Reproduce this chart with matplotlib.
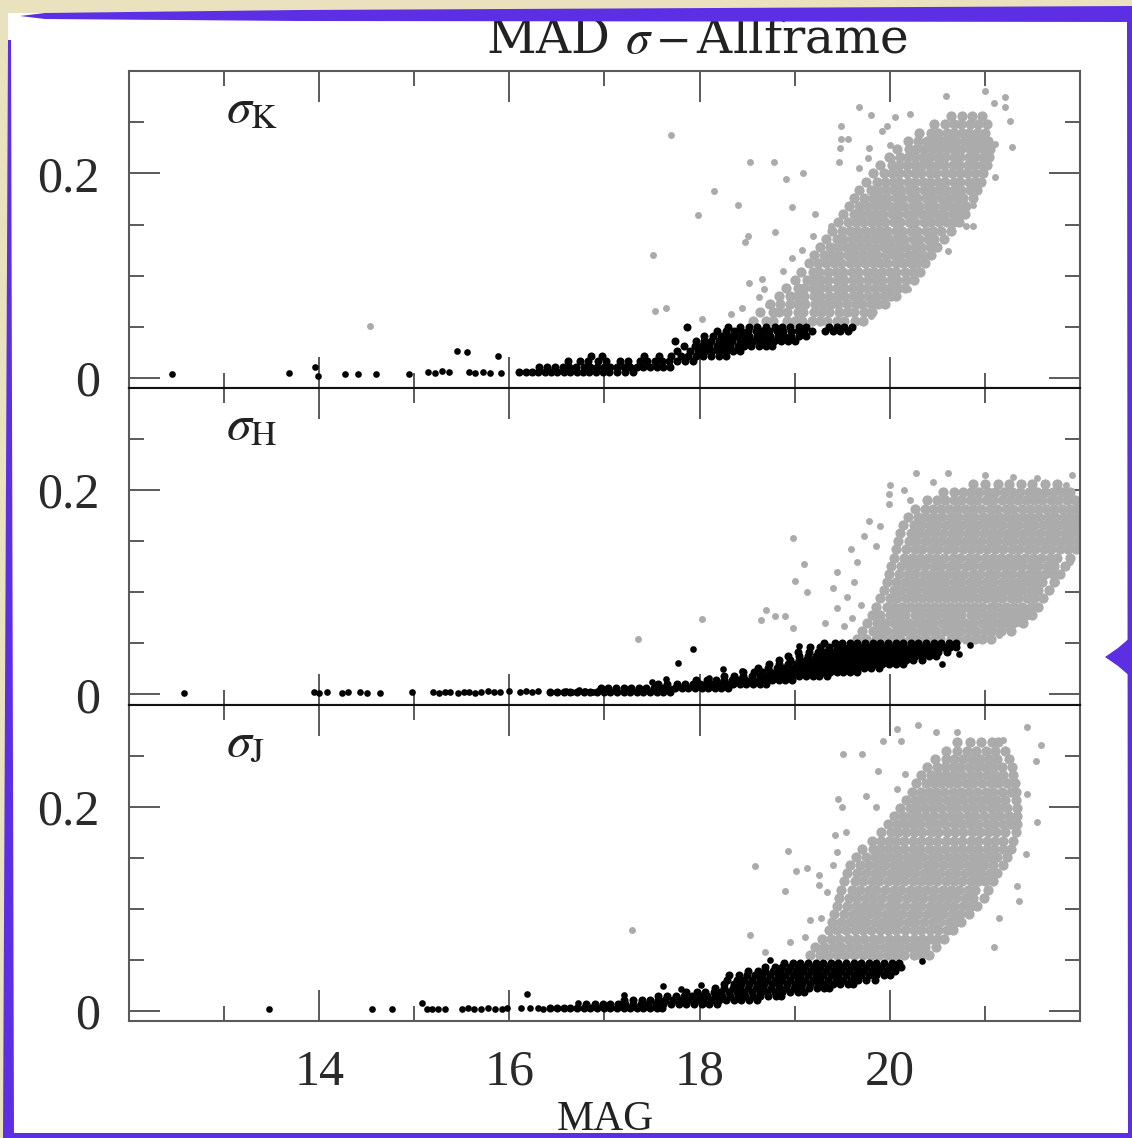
import matplotlib.pyplot as plt
from matplotlib.patches import Polygon, Rectangle

W, H = 1132, 1138

# ---------------- K band ----------------
k_bright_scatter = [(12.45, .004), (13.68, .005), (13.96, .011), (13.99, .002), (14.27, .004),
                    (14.41, .004), (14.6, .004), (14.94, .004), (15.14, .006), (15.22, .005),
                    (15.29, .007), (15.36, .006), (15.45, .026), (15.55, .025), (15.58, .006),
                    (15.64, .005), (15.72, .006), (15.8, .005), (15.88, .021), (15.91, .005)]
k_bright_rows = [
    (.006, [16.1, 16.17, 16.24, 16.3, 16.37, 16.44, 16.5, 16.57, 16.64, 16.71, 16.77, 16.84, 16.91, 16.98, 17.05, 17.13, 17.22, 17.3]),
    (.011, [16.31, 16.4, 16.48, 16.56, 16.63, 16.7, 16.78, 16.85, 16.92, 16.99, 17.06, 17.13, 17.2, 17.27, 17.34, 17.41, 17.48, 17.55, 17.62, 17.69]),
    (.016, [16.62, 16.74, 16.83, 16.93, 17.02, 17.16, 17.25, 17.37, 17.45, 17.53, 17.6, 17.68, 17.76, 17.85, 17.93]),
    (.021, [16.86, 16.97, 17.42, 17.57, 17.7, 17.8, 17.88, 17.96, 18.04, 18.12, 18.2, 18.28]),
    (.026, [17.76, 17.9, 17.98, 18.06, 18.13, 18.2, 18.28, 18.35, 18.43]),
    (.031, [17.84, 17.95, 18.03, 18.1, 18.18, 18.25, 18.32, 18.4, 18.47, 18.54, 18.62, 18.7, 18.76]),
    (.036, [17.74, 17.96, 18.05, 18.12, 18.2, 18.27, 18.34, 18.42, 18.49, 18.56, 18.64, 18.71, 18.78, 18.86, 18.93, 19.0]),
    (.041, [18.05, 18.14, 18.22, 18.3, 18.37, 18.45, 18.52, 18.6, 18.67, 18.74, 18.82, 18.89, 18.96, 19.04, 19.12]),
    (.046, [18.18, 18.28, 18.36, 18.44, 18.51, 18.59, 18.66, 18.73, 18.81, 18.88, 18.96, 19.03, 19.1, 19.18, 19.32, 19.4, 19.48, 19.56]),
    (.050, [17.87, 18.3, 18.42, 18.52, 18.6, 18.7, 18.79, 18.87, 18.95, 19.04, 19.12, 19.36, 19.44, 19.52, 19.6]),
]
k_faint_rows = [
    (.056, [18.56, 18.7, 18.77, 18.92, 19.0, 19.08, 19.18, 19.27, 19.34, 19.45, 19.52, 19.63, 19.72]),
    (.064, [18.63, 18.77, 18.84, 18.92, 19.03, 19.09, 19.2, 19.28, 19.36, 19.47, 19.55, 19.62, 19.73, 19.81]),
    (.072, [18.74, 18.85, 18.95, 19.03, 19.11, 19.21, 19.3, 19.38, 19.46, 19.55, 19.64, 19.71, 19.8, 19.88, 19.95]),
    (.080, [18.83, 18.95, 19.02, 19.1, 19.2, 19.27, 19.36, 19.44, 19.52, 19.61, 19.68, 19.77, 19.85, 19.94, 20.01, 20.07]),
    (.088, [18.91, 19.03, 19.1, 19.19, 19.27, 19.35, 19.45, 19.52, 19.6, 19.69, 19.76, 19.84, 19.93, 20.0, 20.09, 20.16]),
    (.096, [19.0, 19.13, 19.2, 19.28, 19.35, 19.44, 19.52, 19.61, 19.68, 19.77, 19.85, 19.92, 20.01, 20.08, 20.17, 20.25]),
    (.104, [19.07, 19.19, 19.26, 19.35, 19.43, 19.51, 19.6, 19.67, 19.76, 19.83, 19.92, 20.0, 20.07, 20.16, 20.24, 20.32]),
    (.112, [19.15, 19.24, 19.33, 19.41, 19.49, 19.58, 19.65, 19.74, 19.82, 19.9, 19.97, 20.06, 20.14, 20.22, 20.29, 20.37]),
    (.120, [19.2, 19.31, 19.39, 19.47, 19.56, 19.63, 19.72, 19.8, 19.87, 19.96, 20.04, 20.11, 20.2, 20.27, 20.35, 20.43]),
    (.128, [19.27, 19.37, 19.46, 19.54, 19.61, 19.7, 19.78, 19.86, 19.94, 20.01, 20.1, 20.17, 20.26, 20.33, 20.42, 20.5]),
    (.136, [19.33, 19.44, 19.51, 19.6, 19.68, 19.76, 19.84, 19.92, 19.99, 20.08, 20.15, 20.24, 20.31, 20.4, 20.47, 20.57]),
    (.144, [19.39, 19.5, 19.58, 19.66, 19.74, 19.82, 19.9, 19.97, 20.06, 20.13, 20.22, 20.29, 20.38, 20.45, 20.54, 20.64]),
    (.152, [19.46, 19.56, 19.64, 19.72, 19.8, 19.88, 19.95, 20.04, 20.11, 20.2, 20.27, 20.36, 20.43, 20.52, 20.6, 20.68, 20.73]),
    (.160, [19.51, 19.62, 19.7, 19.78, 19.86, 19.93, 20.02, 20.09, 20.18, 20.25, 20.34, 20.41, 20.5, 20.57, 20.66, 20.74, 20.79]),
    (.168, [19.57, 19.68, 19.76, 19.84, 19.92, 19.99, 20.08, 20.15, 20.24, 20.31, 20.4, 20.47, 20.56, 20.63, 20.72, 20.8]),
    (.176, [19.62, 19.73, 19.82, 19.9, 19.97, 20.06, 20.13, 20.22, 20.29, 20.38, 20.45, 20.54, 20.61, 20.7, 20.77, 20.87]),
    (.184, [19.68, 19.8, 19.88, 19.96, 20.04, 20.12, 20.2, 20.27, 20.36, 20.43, 20.52, 20.59, 20.68, 20.75, 20.84, 20.92]),
    (.192, [19.75, 19.87, 19.95, 20.03, 20.1, 20.19, 20.26, 20.35, 20.42, 20.51, 20.58, 20.67, 20.74, 20.83, 20.9, 20.96]),
    (.200, [19.82, 19.94, 20.02, 20.1, 20.18, 20.26, 20.33, 20.42, 20.49, 20.58, 20.65, 20.74, 20.81, 20.9, 20.98]),
    (.208, [19.9, 20.02, 20.1, 20.18, 20.26, 20.34, 20.41, 20.5, 20.57, 20.66, 20.73, 20.82, 20.89, 20.97, 21.02]),
    (.216, [19.99, 20.11, 20.19, 20.27, 20.35, 20.42, 20.51, 20.58, 20.67, 20.74, 20.83, 20.9, 20.98, 21.04]),
    (.224, [20.08, 20.2, 20.28, 20.36, 20.44, 20.52, 20.6, 20.68, 20.75, 20.84, 20.91, 20.99, 21.05]),
    (.232, [20.19, 20.3, 20.39, 20.47, 20.55, 20.63, 20.7, 20.79, 20.86, 20.95, 21.03]),
    (.240, [20.31, 20.43, 20.51, 20.6, 20.67, 20.76, 20.83, 20.92, 21.0]),
    (.248, [20.47, 20.58, 20.67, 20.75, 20.84, 20.93, 21.02]),
    (.256, [20.64, 20.76, 20.86, 20.97]),
]
k_faint_scatter = [(14.53, .051), (17.70, .238), (17.51, .120), (17.53, .065), (17.65, .068),
                   (18.03, .058), (17.98, .159), (18.15, .183), (18.40, .169), (18.53, .211),
                   (18.78, .211), (18.91, .195), (19.09, .200), (18.51, .139), (18.48, .133),
                   (18.79, .143), (18.97, .167), (19.21, .160), (19.19, .139), (18.52, .093),
                   (18.66, .097), (18.68, .087), (18.72, .071), (18.88, .105), (18.97, .117),
                   (19.08, .125), (19.38, .149), (19.49, .246), (19.68, .265), (19.80, .257),
                   (19.92, .242), (19.97, .246), (20.05, .255), (20.21, .258), (19.49, .234),
                   (19.56, .234), (19.48, .225), (19.47, .211), (20.59, .276), (21.00, .281),
                   (21.10, .269), (21.21, .275), (21.21, .265), (21.26, .251), (21.29, .226),
                   (21.11, .197), (20.87, .169), (20.87, .149), (20.80, .149), (20.61, .124),
                   (20.19, .087), (19.80, .060), (20.00, .228), (20.02, .215), (19.78, .225),
                   (19.68, .205), (19.77, .215), (21.11, .229), (20.93, .242), (18.33, .062),
                   (18.45, .068), (18.62, .079)]

# ---------------- H band ----------------
h_bright_scatter = [(12.58, .001), (13.95, .002), (14.0, .001), (14.08, .002), (14.24, .001),
                    (14.3, .002), (14.43, .002), (14.5, .001), (14.64, .001), (14.98, .002),
                    (15.2, .002), (15.26, .001), (15.32, .002), (15.38, .002), (15.46, .001),
                    (15.52, .002), (15.57, .002), (15.64, .001), (15.7, .002), (15.78, .003),
                    (15.84, .002), (15.9, .002), (16.0, .003), (16.11, .002), (16.17, .003),
                    (16.24, .002), (16.3, .003), (16.6, .003), (16.66, .002), (16.73, .004),
                    (16.8, .003), (16.88, .002), (16.94, .004), (17.77, .031), (17.93, .045),
                    (18.25, .025), (18.45, .023), (19.04, .047), (20.84, .048), (20.73, .040),
                    (20.55, .030), (17.5, .012), (17.65, .015), (18.1, .016)]
h_bright_rows = [
    (.002, [16.43, 16.5, 16.57, 16.64, 16.71, 16.78, 16.85, 16.92, 16.99, 17.06, 17.13, 17.2, 17.27, 17.34, 17.41, 17.48, 17.55, 17.62, 17.69]),
    (.006, [16.96, 17.04, 17.12, 17.2, 17.28, 17.36, 17.44, 17.52, 17.6, 17.67, 17.74, 17.81, 17.88, 17.95, 18.02, 18.09, 18.16, 18.23, 18.3]),
    (.010, [17.56, 17.66, 17.76, 17.85, 17.93, 18.0, 18.07, 18.14, 18.21, 18.28, 18.35, 18.42, 18.49, 18.56, 18.63, 18.7]),
    (.014, [17.96, 18.08, 18.17, 18.26, 18.34, 18.41, 18.48, 18.55, 18.62, 18.69, 18.76, 18.83, 18.9, 18.97]),
    (.018, [18.26, 18.36, 18.46, 18.55, 18.63, 18.7, 18.77, 18.84, 18.91, 18.98, 19.05, 19.12, 19.19, 19.26, 19.34]),
    (.022, [18.46, 18.57, 18.66, 18.74, 18.81, 18.88, 18.95, 19.02, 19.09, 19.16, 19.23, 19.3, 19.37, 19.44, 19.51, 19.58, 19.65]),
    (.026, [18.61, 18.72, 18.81, 18.89, 18.96, 19.03, 19.1, 19.17, 19.24, 19.31, 19.38, 19.45, 19.52, 19.59, 19.66, 19.73, 19.8, 19.89]),
    (.030, [18.73, 18.84, 18.93, 19.01, 19.08, 19.15, 19.22, 19.29, 19.36, 19.43, 19.5, 19.57, 19.64, 19.71, 19.78, 19.85, 19.92, 19.99, 20.06, 20.14]),
    (.034, [18.83, 18.95, 19.04, 19.12, 19.19, 19.26, 19.33, 19.4, 19.47, 19.54, 19.61, 19.68, 19.75, 19.82, 19.89, 19.96, 20.03, 20.1, 20.17, 20.24, 20.34]),
    (.038, [18.93, 19.05, 19.14, 19.22, 19.29, 19.36, 19.43, 19.5, 19.57, 19.64, 19.71, 19.78, 19.85, 19.92, 19.99, 20.06, 20.13, 20.2, 20.27, 20.34, 20.41, 20.49]),
    (.042, [19.03, 19.15, 19.24, 19.32, 19.39, 19.46, 19.53, 19.6, 19.67, 19.74, 19.81, 19.88, 19.95, 20.02, 20.09, 20.16, 20.23, 20.3, 20.37, 20.44, 20.51, 20.6]),
    (.046, [19.16, 19.27, 19.36, 19.44, 19.51, 19.58, 19.65, 19.72, 19.79, 19.86, 19.93, 20.0, 20.07, 20.14, 20.21, 20.28, 20.35, 20.42, 20.49, 20.56, 20.63, 20.7]),
    (.050, [19.31, 19.42, 19.5, 19.58, 19.66, 19.74, 19.82, 19.9, 19.98, 20.06, 20.14, 20.22, 20.3, 20.38, 20.46, 20.54, 20.62, 20.7]),
]
h_faint_rows = [
    (.054, [19.66, 19.75, 19.86, 19.93, 20.02, 20.11, 20.21, 20.28, 20.37, 20.46, 20.53, 20.64, 20.71, 20.8, 20.9, 20.97, 21.06]),
    (.062, [19.71, 19.82, 19.9, 19.97, 20.07, 20.15, 20.23, 20.33, 20.4, 20.49, 20.58, 20.65, 20.74, 20.83, 20.91, 21.0, 21.07, 21.17, 21.27]),
    (.070, [19.76, 19.87, 19.95, 20.04, 20.12, 20.2, 20.29, 20.37, 20.45, 20.55, 20.62, 20.71, 20.79, 20.87, 20.97, 21.04, 21.13, 21.21, 21.3, 21.4]),
    (.078, [19.81, 19.9, 20.0, 20.08, 20.16, 20.26, 20.33, 20.42, 20.5, 20.59, 20.67, 20.75, 20.85, 20.92, 21.01, 21.09, 21.18, 21.26, 21.35, 21.43, 21.5]),
    (.086, [19.86, 19.97, 20.04, 20.13, 20.21, 20.3, 20.38, 20.47, 20.55, 20.63, 20.72, 20.8, 20.89, 20.97, 21.06, 21.14, 21.22, 21.31, 21.39, 21.48, 21.56]),
    (.094, [19.9, 20.0, 20.08, 20.17, 20.25, 20.34, 20.42, 20.51, 20.59, 20.68, 20.76, 20.84, 20.93, 21.01, 21.1, 21.18, 21.27, 21.35, 21.44, 21.52, 21.61]),
    (.102, [19.94, 20.04, 20.12, 20.21, 20.29, 20.38, 20.46, 20.55, 20.63, 20.72, 20.8, 20.88, 20.97, 21.05, 21.14, 21.22, 21.31, 21.39, 21.48, 21.56, 21.67]),
    (.110, [19.97, 20.07, 20.16, 20.24, 20.33, 20.41, 20.5, 20.58, 20.67, 20.75, 20.84, 20.92, 21.01, 21.09, 21.18, 21.26, 21.35, 21.43, 21.52, 21.6, 21.73]),
    (.118, [19.99, 20.1, 20.19, 20.27, 20.36, 20.44, 20.53, 20.61, 20.7, 20.78, 20.87, 20.95, 21.04, 21.12, 21.21, 21.29, 21.38, 21.46, 21.55, 21.63, 21.72, 21.79]),
    (.126, [20.01, 20.12, 20.2, 20.29, 20.37, 20.46, 20.54, 20.63, 20.71, 20.8, 20.88, 20.97, 21.05, 21.14, 21.22, 21.31, 21.39, 21.48, 21.56, 21.65, 21.73, 21.84]),
    (.134, [20.04, 20.15, 20.23, 20.32, 20.4, 20.49, 20.57, 20.66, 20.74, 20.83, 20.91, 21.0, 21.08, 21.17, 21.25, 21.34, 21.42, 21.51, 21.59, 21.68, 21.76, 21.9]),
    (.142, [20.07, 20.17, 20.26, 20.34, 20.43, 20.51, 20.6, 20.68, 20.77, 20.85, 20.94, 21.02, 21.11, 21.19, 21.28, 21.36, 21.45, 21.53, 21.62, 21.7, 21.79, 21.87, 21.96]),
    (.150, [20.09, 20.2, 20.28, 20.37, 20.45, 20.54, 20.62, 20.71, 20.79, 20.88, 20.96, 21.05, 21.13, 21.22, 21.3, 21.39, 21.47, 21.56, 21.64, 21.73, 21.81, 21.9, 21.98]),
    (.158, [20.11, 20.22, 20.31, 20.39, 20.48, 20.56, 20.65, 20.73, 20.82, 20.9, 20.99, 21.07, 21.16, 21.24, 21.33, 21.41, 21.5, 21.58, 21.67, 21.75, 21.84, 21.92, 22.0]),
    (.166, [20.14, 20.25, 20.33, 20.42, 20.5, 20.59, 20.67, 20.76, 20.84, 20.93, 21.01, 21.1, 21.18, 21.27, 21.35, 21.44, 21.52, 21.61, 21.69, 21.78, 21.86, 21.95]),
    (.174, [20.19, 20.3, 20.38, 20.47, 20.55, 20.64, 20.72, 20.81, 20.89, 20.98, 21.06, 21.15, 21.23, 21.32, 21.4, 21.49, 21.57, 21.66, 21.74, 21.83, 21.91, 21.99]),
    (.182, [20.26, 20.37, 20.45, 20.54, 20.62, 20.71, 20.79, 20.88, 20.96, 21.05, 21.13, 21.22, 21.3, 21.39, 21.47, 21.56, 21.64, 21.73, 21.81, 21.9, 21.97]),
    (.190, [20.39, 20.5, 20.58, 20.67, 20.75, 20.84, 20.92, 21.01, 21.09, 21.18, 21.26, 21.35, 21.43, 21.52, 21.6, 21.69, 21.77, 21.86, 21.95]),
    (.198, [20.56, 20.68, 20.77, 20.85, 20.94, 21.03, 21.11, 21.2, 21.29, 21.37, 21.46, 21.55, 21.63, 21.72, 21.81, 21.9]),
    (.206, [20.87, 21.0, 21.14, 21.25, 21.38, 21.5, 21.63, 21.76]),
]
h_faint_scatter = [(17.35, .054), (18.02, .074), (18.65, .073), (18.7, .083), (18.79, .077),
                   (18.9, .077), (18.98, .153), (19.1, .128), (19.0, .111), (19.13, .100),
                   (19.4, .104), (18.98, .065), (19.32, .070), (19.52, .067), (19.59, .142),
                   (19.73, .155), (19.99, .196), (19.99, .186), (20.21, .190), (20.28, .217),
                   (20.61, .217), (19.55, .095), (19.62, .110), (19.7, .088), (19.45, .120),
                   (19.66, .130), (19.78, .170), (19.85, .145), (19.9, .165), (21.15, .058),
                   (21.25, .064), (21.35, .070), (21.45, .080), (21.6, .095), (21.75, .110),
                   (21.9, .130), (20.0, .205), (20.15, .200), (20.45, .208), (21.0, .215),
                   (21.3, .213), (21.55, .212), (21.85, .205), (21.92, .215), (19.6, .075),
                   (19.45, .085)]

# ---------------- J band ----------------
j_bright_scatter = [(13.47, .002), (14.55, .002), (14.77, .002), (15.08, .008), (15.13, .002),
                    (15.19, .002), (15.25, .002), (15.32, .002), (15.5, .002), (15.56, .003),
                    (15.63, .002), (15.7, .002), (15.78, .003), (15.85, .002), (15.92, .002),
                    (15.97, .003), (16.12, .003), (16.18, .017), (16.22, .003), (16.3, .003),
                    (16.35, .002), (16.72, .008), (17.62, .025), (18.01, .026), (18.74, .050),
                    (20.1, .045), (20.34, .049), (17.2, .016), (17.8, .022)]
j_bright_rows = [
    (.003, [16.43, 16.5, 16.57, 16.64, 16.71, 16.78, 16.85, 16.92, 16.99, 17.06, 17.13, 17.2, 17.27, 17.34, 17.41, 17.48, 17.55, 17.6]),
    (.007, [16.81, 16.9, 16.98, 17.06, 17.14, 17.22, 17.3, 17.38, 17.46, 17.54, 17.62, 17.7, 17.78, 17.86, 17.94, 18.02, 18.1, 18.18]),
    (.011, [17.21, 17.3, 17.39, 17.48, 17.56, 17.64, 17.72, 17.8, 17.88, 17.96, 18.04, 18.12, 18.2, 18.28, 18.36, 18.44, 18.52, 18.6]),
    (.015, [17.56, 17.66, 17.75, 17.84, 17.92, 18.0, 18.08, 18.16, 18.24, 18.32, 18.4, 18.48, 18.56, 18.64, 18.72, 18.8, 18.86]),
    (.019, [17.86, 17.97, 18.06, 18.15, 18.23, 18.31, 18.39, 18.47, 18.55, 18.63, 18.71, 18.79, 18.87, 18.95, 19.03, 19.1]),
    (.023, [18.16, 18.26, 18.35, 18.43, 18.51, 18.59, 18.67, 18.75, 18.83, 18.91, 18.99, 19.07, 19.15, 19.23, 19.31, 19.36]),
    (.027, [18.26, 18.36, 18.44, 18.52, 18.6, 18.68, 18.76, 18.84, 18.92, 19.0, 19.08, 19.16, 19.24, 19.32, 19.4, 19.48, 19.56, 19.61]),
    (.031, [18.29, 18.39, 18.47, 18.55, 18.63, 18.71, 18.79, 18.87, 18.95, 19.03, 19.11, 19.19, 19.27, 19.35, 19.43, 19.51, 19.59, 19.67, 19.75, 19.84]),
    (.035, [18.31, 18.41, 18.5, 18.58, 18.66, 18.74, 18.82, 18.9, 18.98, 19.06, 19.14, 19.22, 19.3, 19.38, 19.46, 19.54, 19.62, 19.7, 19.78, 19.86, 19.94, 20.0]),
    (.039, [18.51, 18.61, 18.69, 18.77, 18.85, 18.93, 19.01, 19.09, 19.17, 19.25, 19.33, 19.41, 19.49, 19.57, 19.65, 19.73, 19.81, 19.89, 19.97, 20.05]),
    (.043, [18.69, 18.79, 18.87, 18.95, 19.03, 19.11, 19.19, 19.27, 19.35, 19.43, 19.51, 19.59, 19.67, 19.75, 19.83, 19.91, 19.99, 20.07, 20.12]),
    (.047, [18.89, 18.98, 19.06, 19.14, 19.22, 19.3, 19.38, 19.46, 19.54, 19.62, 19.7, 19.78, 19.86, 19.94, 20.02, 20.1]),
]
j_faint_rows = [
    (.055, [19.16, 19.27, 19.35, 19.45, 19.53, 19.62, 19.72, 19.8, 19.89, 19.98, 20.07, 20.15, 20.25, 20.33, 20.41]),
    (.063, [19.21, 19.31, 19.4, 19.49, 19.58, 19.67, 19.76, 19.84, 19.94, 20.02, 20.11, 20.2, 20.29, 20.37, 20.49]),
    (.071, [19.29, 19.38, 19.47, 19.56, 19.64, 19.73, 19.82, 19.9, 19.99, 20.08, 20.16, 20.25, 20.34, 20.42, 20.5, 20.57]),
    (.079, [19.36, 19.45, 19.54, 19.63, 19.72, 19.8, 19.9, 19.98, 20.07, 20.16, 20.25, 20.33, 20.42, 20.51, 20.6, 20.66]),
    (.087, [19.39, 19.49, 19.58, 19.67, 19.75, 19.84, 19.93, 20.01, 20.1, 20.19, 20.27, 20.36, 20.45, 20.53, 20.62, 20.7, 20.75]),
    (.095, [19.41, 19.52, 19.61, 19.7, 19.78, 19.87, 19.96, 20.04, 20.13, 20.22, 20.3, 20.39, 20.48, 20.56, 20.65, 20.74, 20.83]),
    (.103, [19.44, 19.55, 19.64, 19.73, 19.81, 19.9, 19.99, 20.07, 20.16, 20.25, 20.33, 20.42, 20.51, 20.59, 20.68, 20.77, 20.85, 20.92]),
    (.111, [19.47, 19.57, 19.66, 19.75, 19.83, 19.92, 20.01, 20.09, 20.18, 20.27, 20.35, 20.44, 20.53, 20.61, 20.7, 20.79, 20.87, 20.99]),
    (.119, [19.49, 19.6, 19.69, 19.78, 19.86, 19.95, 20.04, 20.12, 20.21, 20.3, 20.38, 20.47, 20.56, 20.64, 20.73, 20.82, 20.9, 21.03]),
    (.127, [19.52, 19.63, 19.72, 19.81, 19.89, 19.98, 20.07, 20.15, 20.24, 20.33, 20.41, 20.5, 20.59, 20.67, 20.76, 20.85, 20.93, 21.0, 21.08]),
    (.135, [19.55, 19.66, 19.75, 19.84, 19.92, 20.01, 20.1, 20.18, 20.27, 20.36, 20.44, 20.53, 20.62, 20.7, 20.79, 20.88, 20.96, 21.05, 21.13]),
    (.143, [19.58, 19.69, 19.78, 19.87, 19.95, 20.04, 20.13, 20.21, 20.3, 20.39, 20.47, 20.56, 20.65, 20.73, 20.82, 20.91, 20.99, 21.08, 21.19]),
    (.151, [19.64, 19.75, 19.84, 19.92, 20.0, 20.09, 20.18, 20.26, 20.35, 20.44, 20.52, 20.61, 20.7, 20.78, 20.87, 20.96, 21.04, 21.13, 21.23]),
    (.159, [19.71, 19.82, 19.9, 19.98, 20.06, 20.15, 20.24, 20.32, 20.41, 20.5, 20.58, 20.67, 20.76, 20.84, 20.93, 21.02, 21.1, 21.19, 21.27]),
    (.167, [19.81, 19.91, 19.99, 20.07, 20.15, 20.24, 20.33, 20.41, 20.5, 20.59, 20.67, 20.76, 20.85, 20.93, 21.02, 21.11, 21.19, 21.3]),
    (.175, [19.91, 20.01, 20.09, 20.17, 20.25, 20.34, 20.43, 20.51, 20.6, 20.69, 20.77, 20.86, 20.95, 21.03, 21.12, 21.21, 21.33]),
    (.183, [19.98, 20.08, 20.16, 20.24, 20.32, 20.41, 20.5, 20.58, 20.67, 20.76, 20.84, 20.93, 21.02, 21.1, 21.19, 21.27, 21.34]),
    (.191, [20.04, 20.14, 20.22, 20.3, 20.38, 20.47, 20.56, 20.64, 20.73, 20.82, 20.9, 20.99, 21.08, 21.16, 21.25, 21.34]),
    (.199, [20.11, 20.21, 20.29, 20.37, 20.45, 20.54, 20.63, 20.71, 20.8, 20.89, 20.97, 21.06, 21.15, 21.23, 21.34]),
    (.207, [20.17, 20.27, 20.35, 20.43, 20.51, 20.6, 20.69, 20.77, 20.86, 20.95, 21.03, 21.12, 21.21, 21.33]),
    (.215, [20.23, 20.33, 20.41, 20.49, 20.57, 20.66, 20.75, 20.83, 20.92, 21.01, 21.09, 21.18, 21.27, 21.33]),
    (.223, [20.28, 20.38, 20.46, 20.54, 20.62, 20.71, 20.8, 20.88, 20.97, 21.06, 21.14, 21.23, 21.32]),
    (.231, [20.33, 20.43, 20.51, 20.59, 20.67, 20.76, 20.85, 20.93, 21.02, 21.11, 21.19, 21.3]),
    (.239, [20.39, 20.5, 20.58, 20.66, 20.74, 20.83, 20.92, 21.0, 21.09, 21.18, 21.28]),
    (.247, [20.48, 20.59, 20.68, 20.77, 20.86, 20.95, 21.04, 21.13, 21.25]),
    (.255, [20.59, 20.71, 20.81, 20.91, 21.01, 21.11, 21.21]),
    (.263, [20.71, 20.84, 20.96, 21.07, 21.14]),
]
j_faint_scatter = [(21.59, .261), (21.54, .245), (21.44, .213), (21.55, .185), (21.43, .154),
                   (21.36, .108), (21.10, .063), (21.34, .123), (21.15, .091), (21.44, .278),
                   (21.19, .265), (20.71, .273), (20.49, .273), (20.30, .280), (20.08, .276),
                   (19.93, .264), (20.12, .264), (19.71, .252), (19.51, .252), (19.88, .235),
                   (20.16, .232), (19.46, .208), (19.50, .200), (19.75, .211), (19.85, .200),
                   (20.08, .217), (19.42, .172), (19.54, .175), (19.44, .156), (19.40, .143),
                   (19.26, .133), (19.13, .140), (19.01, .137), (18.93, .157), (18.58, .142),
                   (18.90, .118), (19.26, .124), (19.34, .117), (19.16, .089), (19.28, .091),
                   (18.53, .075), (18.95, .068), (19.11, .073), (18.69, .058), (17.29, .079)]

BAND_NAMES = ['K', 'H', 'J']
BANDS = [
    (k_bright_scatter, k_bright_rows, k_faint_rows, k_faint_scatter),
    (h_bright_scatter, h_bright_rows, h_faint_rows, h_faint_scatter),
    (j_bright_scatter, j_bright_rows, j_faint_rows, j_faint_scatter),
]


def unpack_rows(rows):
    xs, ys = [], []
    for y, row in rows:
        xs += row
        ys += [y] * len(row)
    return xs, ys


def unpack_pairs(pairs):
    return [p[0] for p in pairs], [p[1] for p in pairs]


def fpt(px, py):
    # pixel position (from top-left) -> figure fraction
    return (px / W, 1 - py / H)


plt.rcParams['font.family'] = 'Liberation Serif'
plt.rcParams['mathtext.fontset'] = 'stix'

fig = plt.figure(figsize=(W / 100, H / 100), dpi=100, facecolor='#eae2be')

# white page and the purple frame around it
fig.patches.append(Rectangle(fpt(8, 1134), 1120 / W, 1121 / H, transform=fig.transFigure,
                             facecolor='white', edgecolor='none', zorder=-1))
purple = '#5c2fe4'
frame = [
    [(20, 16), (45, 13), (300, 10), (1132, 6), (1132, 22), (300, 21), (45, 19)],
    [(8, 40), (11, 40), (14, 1138), (3, 1138)],
    [(1127, 22), (1132, 22), (1132, 1138), (1128, 1138)],
    [(3, 1133), (1132, 1133), (1132, 1138), (3, 1138)],
    [(1105, 657), (1118, 648), (1132, 636), (1132, 678), (1118, 666)],
]
for pts in frame:
    fig.patches.append(Polygon([fpt(*p) for p in pts], closed=True, transform=fig.transFigure,
                               facecolor=purple, edgecolor='none', zorder=5))

left, width = 129 / W, 951 / W
panel_h = 316.7 / H
bottoms = [1 - 388 / H, 1 - 704.7 / H, 1 - 1021.4 / H]

grey = '#ababab'
spine_grey = '#5a5a5a'
for i, (name, band) in enumerate(zip(BAND_NAMES, BANDS)):
    bright_scatter, bright_rows, faint_rows, faint_scatter = band
    ax = fig.add_axes([left, bottoms[i], width, panel_h])

    # faint stars (grey) first, bright stars (black) on top
    x, y = unpack_rows(faint_rows)
    ax.plot(x, y, 'o', ls='none', color=grey, ms=7.4, mew=0)
    x, y = unpack_pairs(faint_scatter)
    ax.plot(x, y, 'o', ls='none', color=grey, ms=5.0, mew=0)
    x, y = unpack_rows(bright_rows)
    ax.plot(x, y, 'o', ls='none', color='black', ms=5.8, mew=0)
    x, y = unpack_pairs(bright_scatter)
    ax.plot(x, y, 'o', ls='none', color='black', ms=4.8, mew=0)

    ax.set_xlim(12, 22)
    ax.set_ylim(-0.01, 0.30)
    ax.set_xticks([14, 16, 18, 20])
    ax.set_xticks([13, 15, 17, 19, 21], minor=True)
    ax.set_yticks([0, 0.2])
    ax.set_yticklabels(['0', '0.2'])
    ax.set_yticks([0.05, 0.1, 0.15, 0.25], minor=True)
    ax.tick_params(which='both', direction='in', top=True, right=True,
                   color=spine_grey, width=1.4, labelsize=36, labelcolor='#2a2a2a')
    ax.tick_params(which='major', length=22)
    ax.tick_params(which='minor', length=11)
    ax.tick_params(axis='y', pad=21)
    ax.tick_params(axis='x', pad=20)
    if i < 2:
        ax.tick_params(labelbottom=False)

    for side, sp in ax.spines.items():
        sp.set_color(spine_grey)
        sp.set_linewidth(1.5)
    if i > 0:
        ax.spines['top'].set_color('#111111')
    if i < 2:
        ax.spines['bottom'].set_color('#111111')

    ax.text(13.02, 0.25, r'$\sigma_{\rm %s}$' % name, fontsize=36, ha='left',
            va='baseline', color='#222222')

fig.text(697 / W, 1 - 40 / H, r'MAD $\sigma-$Allframe', family='DejaVu Serif',
         fontsize=35, ha='center', va='center', color='#222222')
fig.text(605 / W, 1 - 1101 / H, 'MAG', fontsize=30, ha='center', va='top', color='#222222')

fig.savefig('out.png', dpi=100, facecolor=fig.get_facecolor())
